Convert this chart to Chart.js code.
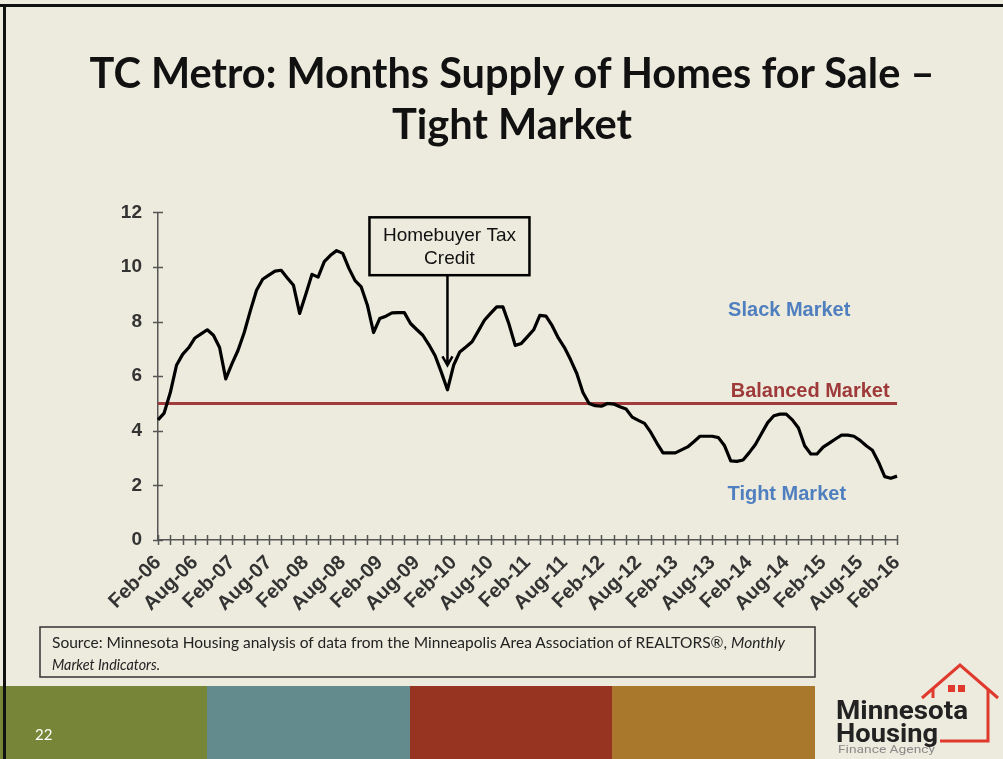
<!DOCTYPE html>
<html>
<head>
<meta charset="utf-8">
<script src="https://cdn.jsdelivr.net/npm/chart.js@4.4.1/dist/chart.umd.min.js"></script>
<style>
  html, body { margin: 0; padding: 0; }
  body { width: 1003px; height: 759px; background: #edebdd; position: relative; overflow: hidden; }
  #chartBox { position: absolute; left: 100px; top: 185px; width: 825px; height: 445px; z-index: 1; }
  #slide { position: absolute; left: 0; top: 0; z-index: 2; pointer-events: none; }
</style>
</head>
<body>
<div id="chartBox"><canvas id="myChart" width="825" height="445"></canvas></div>

<svg id="slide" width="1003" height="759" xmlns="http://www.w3.org/2000/svg">
  <!-- slide frame -->
  <line x1="0" y1="5.5" x2="1003" y2="5.5" stroke="#111" stroke-width="3"/>
  <line x1="4.5" y1="4" x2="4.5" y2="759" stroke="#111" stroke-width="3"/>

  <text x="512" y="88" text-anchor="middle" font-family="Lato" font-weight="700" font-size="42" fill="#111"
        textLength="845" lengthAdjust="spacingAndGlyphs">TC Metro: Months Supply of Homes for Sale –</text>
  <text x="512" y="139" text-anchor="middle" font-family="Lato" font-weight="700" font-size="42" fill="#111"
        textLength="240" lengthAdjust="spacingAndGlyphs">Tight Market</text>

  <!-- source note -->
  <rect x="40" y="627" width="775" height="50" fill="none" stroke="#333" stroke-width="1.5"/>
  <text x="52" y="648" font-family="Lato" font-size="15" fill="#222" textLength="733" lengthAdjust="spacingAndGlyphs">Source:  Minnesota Housing analysis of data from the Minneapolis Area Association of REALTORS®, <tspan font-style="italic">Monthly</tspan></text>
  <text x="52" y="670" font-family="Lato" font-size="15" font-style="italic" fill="#222" textLength="108" lengthAdjust="spacingAndGlyphs">Market Indicators.</text>

  <!-- footer bars -->
  <rect x="0" y="686" width="207" height="73" fill="#768537"/>
  <rect x="207" y="686" width="203" height="73" fill="#638a8c"/>
  <rect x="410" y="686" width="202" height="73" fill="#963421"/>
  <rect x="612" y="686" width="203" height="73" fill="#aa782d"/>
  <line x1="4.5" y1="686" x2="4.5" y2="759" stroke="#111" stroke-width="3"/>
  <text x="35" y="740" font-family="Lato" font-size="15" fill="#fff">22</text>

  <!-- logo -->
  <g fill="none" stroke="#e03a2e" stroke-width="3" stroke-linejoin="miter">
    <polyline points="922,698 960,665 998,698"/>
    <polyline points="933,688 933,698"/>
    <polyline points="988,689 988,741 940,741"/>
  </g>
  <g fill="#e03a2e">
    <rect x="948" y="685" width="7" height="7"/>
    <rect x="958" y="685" width="7" height="7"/>
  </g>
  <text x="836" y="719" font-family="Roboto" font-weight="700" font-size="25" fill="#222" textLength="132" lengthAdjust="spacingAndGlyphs">Minnesota</text>
  <text x="836" y="742" font-family="Roboto" font-weight="700" font-size="25" fill="#222" textLength="102" lengthAdjust="spacingAndGlyphs">Housing</text>
  <text x="838" y="753" font-family="Roboto" font-size="11" fill="#8a8a8a" textLength="97" lengthAdjust="spacingAndGlyphs">Finance Agency</text>
</svg>

<script>
// months since Feb-06, monthly through Feb-16
const monthNames = ['Jan','Feb','Mar','Apr','May','Jun','Jul','Aug','Sep','Oct','Nov','Dec'];
const months = [];
for (let i = 0; i <= 120; i++) {
    const m = (1 + i) % 12;
    const yr = 6 + Math.floor((1 + i) / 12);
    months.push(monthNames[m] + '-' + String(yr).padStart(2, '0'));
}

// months supply of homes for sale
const supply = [
    4.4, 4.65, 5.4, 6.4, 6.8, 7.05, 7.4, 7.55, 7.7, 7.5,
    7.05, 5.9, 6.45, 6.95, 7.6, 8.4, 9.15, 9.55, 9.7, 9.85,
    9.88, 9.6, 9.33, 8.3, 9.0, 9.73, 9.63, 10.2, 10.43, 10.6,
    10.5, 9.95, 9.5, 9.27, 8.6, 7.6, 8.11, 8.2, 8.32, 8.33,
    8.33, 7.93, 7.71, 7.5, 7.15, 6.75, 6.15, 5.5, 6.4, 6.89,
    7.07, 7.26, 7.65, 8.05, 8.3, 8.54, 8.54, 7.9, 7.13, 7.2,
    7.45, 7.7, 8.23, 8.2, 7.85, 7.4, 7.05, 6.6, 6.1, 5.4,
    5.0, 4.92, 4.9, 5.0, 4.98, 4.88, 4.8, 4.5, 4.38, 4.27,
    3.95, 3.55, 3.19, 3.19, 3.19, 3.3, 3.41, 3.6, 3.8, 3.8,
    3.8, 3.75, 3.45, 2.9, 2.88, 2.93, 3.2, 3.5, 3.9, 4.3,
    4.55, 4.61, 4.61, 4.4, 4.1, 3.45, 3.15, 3.15, 3.4, 3.55,
    3.7, 3.84, 3.84, 3.8, 3.65, 3.45, 3.29, 2.85, 2.32, 2.26,
    2.34
];

const balancedLevel = 5;
const balanced = months.map(() => balancedLevel);

const yTicks = [0, 2, 4, 6, 8, 10, 12];
const labelEvery = 6;   // one label per 6 months
const tickEvery = 2;    // tick mark every 2 months

// homebuyer tax credit callout (month index / value coords)
const creditIdx = 47;
const creditTip = 6.4;
const creditBoxTop = 11.82;
const creditBoxBottom = 9.7;
const creditText = ['Homebuyer Tax', 'Credit'];

const zoneLabels = [
    { text: 'Slack Market', idx: 102.5, val: 8.42, color: '#4f7fbf', align: 'center' },
    { text: 'Balanced Market', idx: 118.8, val: 5.43, color: '#9e3a3a', align: 'right' },
    { text: 'Tight Market', idx: 102.1, val: 1.68, color: '#4f7fbf', align: 'center' }
];

const FONT = "'Liberation Sans', Arial, sans-serif";

const axisMarks = {
    id: 'axisMarks',
    afterDraw(chart) {
        const { ctx, scales: { x, y }, chartArea } = chart;
        ctx.save();
        ctx.strokeStyle = '#555';
        ctx.lineWidth = 1.5;
        ctx.beginPath();
        yTicks.forEach(v => {
            const py = Math.round(y.getPixelForValue(v)) + 0.5;
            ctx.moveTo(chartArea.left - 5, py);
            ctx.lineTo(chartArea.left + 5, py);
        });
        for (let i = 0; i < months.length; i += tickEvery) {
            const px = Math.round(x.getPixelForValue(i)) + 0.5;
            ctx.moveTo(px, chartArea.bottom - 5);
            ctx.lineTo(px, chartArea.bottom + 5);
        }
        ctx.stroke();
        ctx.restore();
    }
};

const callouts = {
    id: 'callouts',
    afterDatasetsDraw(chart) {
        const { ctx, scales: { x, y } } = chart;
        ctx.save();

        // tax credit box + arrow
        const cx = x.getPixelForValue(creditIdx);
        const top = y.getPixelForValue(creditBoxTop);
        const bottom = y.getPixelForValue(creditBoxBottom);
        const tip = y.getPixelForValue(creditTip);
        ctx.fillStyle = '#edebdd';
        ctx.fillRect(cx - 78, top, 160, bottom - top);
        ctx.strokeStyle = '#000';
        ctx.lineWidth = 2.5;
        ctx.strokeRect(cx - 78, top, 160, bottom - top);
        ctx.fillStyle = '#111';
        ctx.font = '19px ' + FONT;
        ctx.textAlign = 'center';
        ctx.textBaseline = 'middle';
        ctx.fillText(creditText[0], cx + 2, top + 18);
        ctx.fillText(creditText[1], cx + 2, top + 41);

        ctx.lineWidth = 2.5;
        ctx.beginPath();
        ctx.moveTo(cx, bottom);
        ctx.lineTo(cx, tip);
        ctx.moveTo(cx - 5, tip - 9);
        ctx.lineTo(cx, tip);
        ctx.lineTo(cx + 5, tip - 9);
        ctx.stroke();

        // zone labels
        ctx.font = 'bold 20px ' + FONT;
        zoneLabels.forEach(l => {
            ctx.fillStyle = l.color;
            ctx.textAlign = l.align;
            ctx.fillText(l.text, x.getPixelForValue(l.idx), y.getPixelForValue(l.val));
        });
        ctx.restore();
    }
};

const ctxEl = document.getElementById('myChart').getContext('2d');
new Chart(ctxEl, {
    type: 'line',
    data: {
        labels: months,
        datasets: [
            {
                label: 'Months Supply',
                data: supply,
                borderColor: '#000',
                borderWidth: 3.2,
                pointRadius: 0,
                tension: 0,
                borderJoinStyle: 'round'
            },
            {
                label: 'Balanced Market',
                data: balanced,
                borderColor: '#a23b3b',
                borderWidth: 3,
                pointRadius: 0
            }
        ]
    },
    options: {
        responsive: false,
        animation: false,
        events: [],
        layout: { padding: { left: 0, right: 23, top: 12, bottom: 0 } },
        plugins: { legend: { display: false }, tooltip: { enabled: false } },
        scales: {
            x: {
                grid: { drawOnChartArea: false, drawTicks: false },
                border: { color: '#555', width: 1.5 },
                ticks: {
                    autoSkip: false,
                    maxRotation: 45,
                    minRotation: 45,
                    padding: 11,
                    color: '#333',
                    font: { family: FONT, size: 20, weight: 'bold' },
                    callback: function (value, index) {
                        return index % labelEvery === 0 ? this.getLabelForValue(value) : '';
                    }
                },
                afterFit: s => { s.height = 90; }
            },
            y: {
                min: 0,
                max: 12,
                grid: { drawOnChartArea: false, drawTicks: false },
                border: { color: '#555', width: 1.5 },
                ticks: {
                    stepSize: 2,
                    padding: 16,
                    color: '#333',
                    font: { family: FONT, size: 19, weight: 'bold' }
                },
                afterFit: s => { s.width = 58; }
            }
        }
    },
    plugins: [axisMarks, callouts]
});
</script>
</body>
</html>
